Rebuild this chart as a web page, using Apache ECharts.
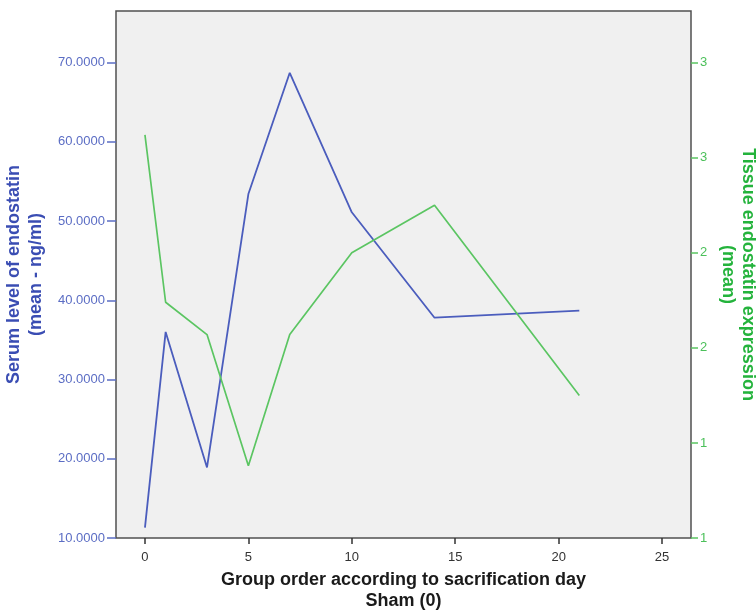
<!DOCTYPE html>
<html>
<head>
<meta charset="utf-8">
<script src="https://cdn.jsdelivr.net/npm/echarts@6/dist/echarts.min.js"></script>
<style>
  html, body { margin: 0; padding: 0; background: #fff; }
  #chart { width: 756px; height: 611px; }
</style>
</head>
<body>
<div id="chart"></div>
<script>
// group order (sacrification day)
const days = [0, 1, 3, 5, 7, 10, 14, 21]
// serum level of endostatin (mean - ng/ml)
const serum = [11.3, 36.0, 18.9, 53.4, 68.7, 51.1, 37.8, 38.7]
// tissue endostatin expression (mean)
const tissue = [2.62, 1.74, 1.57, 0.88, 1.57, 2.0, 2.25, 1.25]

const xTicks = [0, 5, 10, 15, 20, 25]
const leftTicks = [10, 20, 30, 40, 50, 60, 70]
const leftTickLabels = ['10.0000', '20.0000', '30.0000', '40.0000', '50.0000', '60.0000', '70.0000']
const rightTicks = [0.5, 1.0, 1.5, 2.0, 2.5, 3.0]
const rightTickLabels = ['1', '1', '2', '2', '3', '3']

const font = 'Liberation Sans, Arial, sans-serif'
const blue = '#4b5dbd'
const green = '#5bc562'

const chart = echarts.init(document.getElementById('chart'))

const option = {
  animation: false,
  textStyle: { fontFamily: font },
  grid: {
    left: 116,
    right: 65,
    top: 11,
    bottom: 73,
    show: true,
    backgroundColor: '#f0f0f0',
    borderColor: '#505050',
    borderWidth: 1.5,
    outerBoundsMode: 'none'
  },
  xAxis: {
    type: 'value',
    min: -1.4,
    max: 26.4,
    name: 'Group order according to sacrification day\nSham (0)',
    nameLocation: 'middle',
    nameGap: 32,
    nameTextStyle: { color: '#1a1a1a', fontSize: 18, fontWeight: 'bold', lineHeight: 21, fontFamily: font },
    axisLine: { show: false, onZero: false },
    axisTick: { show: true, length: 6, customValues: xTicks, lineStyle: { color: '#333', width: 1.5 } },
    axisLabel: { customValues: xTicks, color: '#333', fontSize: 13, margin: 13, fontFamily: font },
    splitLine: { show: false }
  },
  yAxis: [
    {
      type: 'value',
      position: 'left',
      min: 10,
      max: 76.5,
      name: 'Serum level of endostatin\n(mean - ng/ml)',
      nameLocation: 'middle',
      nameRotate: 90,
      nameGap: 64,
      nameTextStyle: { color: '#3a4db3', fontSize: 18, fontWeight: 'bold', lineHeight: 22, fontFamily: font },
      axisLine: { show: false, onZero: false },
      axisTick: { show: true, length: 9, customValues: leftTicks, lineStyle: { color: '#5b6dc4', width: 1.5 } },
      axisLabel: {
        customValues: leftTicks,
        color: '#5b6dc4',
        fontSize: 13,
        margin: 11,
        fontFamily: font,
        formatter: v => leftTickLabels[leftTicks.indexOf(v)]
      },
      splitLine: { show: false }
    },
    {
      type: 'value',
      position: 'right',
      min: 0.5,
      max: 3.272,
      name: 'Tissue endostatin expression\n(mean)',
      nameLocation: 'middle',
      nameRotate: -90,
      nameGap: 25,
      nameTextStyle: { color: '#24b33c', fontSize: 18, fontWeight: 'bold', lineHeight: 20, fontFamily: font },
      axisLine: { show: false, onZero: false },
      axisTick: { show: true, length: 7, customValues: rightTicks, lineStyle: { color: '#5bc562', width: 1.5 } },
      axisLabel: {
        customValues: rightTicks,
        color: '#4cc05a',
        fontSize: 13,
        margin: 9,
        fontFamily: font,
        formatter: v => rightTickLabels[rightTicks.indexOf(v)]
      },
      splitLine: { show: false }
    }
  ],
  series: [
    {
      name: 'Serum level of endostatin',
      type: 'line',
      yAxisIndex: 0,
      data: days.map((d, i) => [d, serum[i]]),
      showSymbol: false,
      lineStyle: { color: blue, width: 1.8 },
      itemStyle: { color: blue }
    },
    {
      name: 'Tissue endostatin expression',
      type: 'line',
      yAxisIndex: 1,
      data: days.map((d, i) => [d, tissue[i]]),
      showSymbol: false,
      lineStyle: { color: green, width: 1.7 },
      itemStyle: { color: green }
    }
  ]
}

chart.setOption(option)
</script>
</body>
</html>
